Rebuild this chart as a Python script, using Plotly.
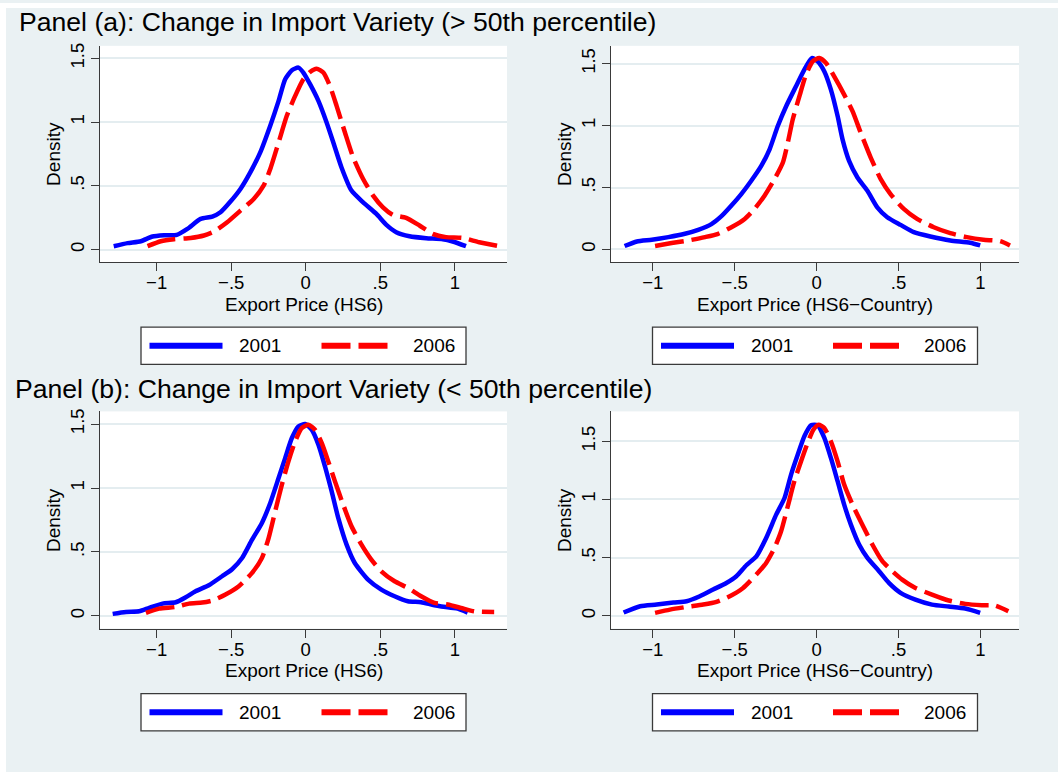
import plotly.graph_objects as go

W, H = 1058, 772
FONT = "Liberation Sans, Arial, Helvetica, sans-serif"

# ---------------- data (kernel densities) ----------------
years = ["2001", "2006"]
panel_titles = [
    "Panel (a): Change in Import Variety (> 50th percentile)",
    "Panel (b): Change in Import Variety (< 50th percentile)",
]
x_titles = ["Export Price (HS6)", "Export Price (HS6\u2212Country)"]
y_title = "Density"

x_tick_vals = [-1, -0.5, 0, 0.5, 1]
x_tick_text = ["\u22121", "\u2212.5", "0", ".5", "1"]
y_tick_vals = [0, 0.5, 1, 1.5]
y_tick_text = ["0", ".5", "1", "1.5"]

# Panel (a), HS6
a_hs6_2001_x = [-1.288, -1.195, -1.106, -1.028, -0.950, -0.865, -0.794, -0.705, -0.627, -0.572,
                -0.505, -0.438, -0.372, -0.305, -0.238, -0.182, -0.138, -0.093, -0.049, -0.016,
                0.029, 0.085, 0.140, 0.185, 0.240, 0.307, 0.385, 0.474, 0.541, 0.607,
                0.696, 0.808, 0.919, 0.986, 1.075]
a_hs6_2001_y = [0.026, 0.050, 0.065, 0.102, 0.112, 0.115, 0.162, 0.240, 0.258, 0.292,
                0.376, 0.475, 0.605, 0.762, 0.971, 1.166, 1.336, 1.406, 1.427, 1.388,
                1.297, 1.166, 0.997, 0.840, 0.644, 0.462, 0.370, 0.279, 0.193, 0.136,
                0.104, 0.089, 0.081, 0.063, 0.026]
a_hs6_2006_x = [-1.061, -0.972, -0.883, -0.772, -0.683, -0.616, -0.527, -0.438, -0.349, -0.283,
                -0.238, -0.182, -0.127, -0.071, -0.016, 0.029, 0.073, 0.118, 0.162, 0.207,
                0.263, 0.318, 0.385, 0.452, 0.518, 0.585, 0.674, 0.763, 0.852, 0.941,
                1.052, 1.164, 1.297]
a_hs6_2006_y = [0.026, 0.065, 0.081, 0.091, 0.110, 0.141, 0.214, 0.305, 0.397, 0.501,
                0.631, 0.840, 1.049, 1.205, 1.336, 1.393, 1.419, 1.388, 1.284, 1.127,
                0.918, 0.723, 0.553, 0.423, 0.331, 0.271, 0.248, 0.188, 0.123, 0.097,
                0.091, 0.057, 0.026]

# Panel (a), HS6-Country
a_cty_2001_x = [-1.172, -1.097, -1.006, -0.905, -0.804, -0.723, -0.642, -0.581, -0.520, -0.460,
                -0.399, -0.338, -0.287, -0.237, -0.186, -0.126, -0.075, -0.030, 0.006, 0.047,
                0.087, 0.128, 0.158, 0.198, 0.249, 0.310, 0.370, 0.431, 0.512, 0.593,
                0.694, 0.816, 0.937, 0.998]
a_cty_2001_y = [0.027, 0.064, 0.078, 0.099, 0.126, 0.158, 0.204, 0.268, 0.354, 0.447,
                0.555, 0.675, 0.809, 0.997, 1.157, 1.318, 1.452, 1.546, 1.519, 1.438,
                1.291, 1.077, 0.889, 0.715, 0.581, 0.474, 0.340, 0.260, 0.198, 0.139,
                0.104, 0.072, 0.054, 0.032]
a_cty_2006_x = [-0.986, -0.885, -0.783, -0.682, -0.601, -0.520, -0.439, -0.379, -0.318, -0.257,
                -0.206, -0.176, -0.146, -0.105, -0.065, -0.024, 0.016, 0.057, 0.107, 0.168,
                0.219, 0.269, 0.330, 0.391, 0.451, 0.532, 0.613, 0.715, 0.816, 0.917,
                1.018, 1.119, 1.180]
a_cty_2006_y = [0.027, 0.051, 0.072, 0.099, 0.126, 0.179, 0.246, 0.327, 0.434, 0.568,
                0.702, 0.863, 1.050, 1.238, 1.412, 1.519, 1.546, 1.506, 1.398, 1.251,
                1.117, 0.943, 0.742, 0.568, 0.447, 0.327, 0.246, 0.179, 0.131, 0.099,
                0.078, 0.067, 0.032]

# Panel (b), HS6
b_hs6_2001_x = [-1.295, -1.206, -1.117, -1.050, -0.961, -0.872, -0.805, -0.739, -0.650, -0.561,
                -0.494, -0.427, -0.360, -0.294, -0.238, -0.182, -0.138, -0.093, -0.049, -0.004,
                0.040, 0.085, 0.129, 0.174, 0.218, 0.274, 0.329, 0.418, 0.507, 0.596,
                0.685, 0.774, 0.863, 0.974, 1.019, 1.086]
b_hs6_2001_y = [0.016, 0.031, 0.036, 0.063, 0.096, 0.107, 0.146, 0.193, 0.240, 0.310,
                0.365, 0.453, 0.596, 0.727, 0.883, 1.078, 1.234, 1.391, 1.482, 1.500,
                1.456, 1.339, 1.169, 0.974, 0.766, 0.557, 0.414, 0.284, 0.206, 0.154,
                0.115, 0.107, 0.083, 0.063, 0.057, 0.026]
b_hs6_2006_x = [-1.072, -0.983, -0.872, -0.783, -0.694, -0.627, -0.538, -0.449, -0.360, -0.294,
                -0.249, -0.205, -0.160, -0.116, -0.071, -0.027, 0.018, 0.062, 0.107, 0.151,
                0.196, 0.251, 0.307, 0.374, 0.440, 0.507, 0.596, 0.685, 0.774, 0.863,
                0.952, 1.041, 1.130, 1.264]
b_hs6_2006_y = [0.023, 0.057, 0.070, 0.096, 0.104, 0.120, 0.167, 0.232, 0.336, 0.453,
                0.609, 0.818, 1.026, 1.208, 1.365, 1.469, 1.495, 1.456, 1.352, 1.208,
                1.052, 0.870, 0.701, 0.557, 0.440, 0.349, 0.271, 0.219, 0.154, 0.102,
                0.089, 0.063, 0.036, 0.031]

# Panel (b), HS6-Country
b_cty_2001_x = [-1.178, -1.077, -0.976, -0.874, -0.794, -0.713, -0.632, -0.551, -0.490, -0.429,
                -0.368, -0.308, -0.247, -0.196, -0.156, -0.115, -0.075, -0.034, 0.006, 0.047,
                0.087, 0.128, 0.168, 0.209, 0.259, 0.310, 0.381, 0.441, 0.512, 0.603,
                0.704, 0.806, 0.907, 0.998]
b_cty_2001_y = [0.029, 0.083, 0.097, 0.115, 0.126, 0.169, 0.226, 0.283, 0.341, 0.435,
                0.512, 0.670, 0.870, 1.013, 1.214, 1.386, 1.543, 1.638, 1.638, 1.529,
                1.357, 1.157, 0.956, 0.784, 0.613, 0.498, 0.384, 0.283, 0.198, 0.140,
                0.097, 0.080, 0.063, 0.026]
b_cty_2006_x = [-0.986, -0.895, -0.794, -0.692, -0.611, -0.530, -0.449, -0.368, -0.308, -0.257,
                -0.217, -0.176, -0.136, -0.095, -0.055, -0.020, 0.012, 0.047, 0.087, 0.128,
                0.168, 0.219, 0.279, 0.340, 0.401, 0.462, 0.522, 0.603, 0.704, 0.806,
                0.907, 1.008, 1.089, 1.170]
b_cty_2006_y = [0.026, 0.054, 0.077, 0.097, 0.120, 0.169, 0.240, 0.355, 0.455, 0.584,
                0.727, 0.942, 1.157, 1.328, 1.486, 1.600, 1.643, 1.615, 1.500, 1.328,
                1.128, 0.956, 0.784, 0.613, 0.470, 0.384, 0.312, 0.240, 0.183, 0.132,
                0.103, 0.092, 0.089, 0.040]

series = [
    ((a_hs6_2001_x, a_hs6_2001_y), (a_hs6_2006_x, a_hs6_2006_y)),
    ((a_cty_2001_x, a_cty_2001_y), (a_cty_2006_x, a_cty_2006_y)),
    ((b_hs6_2001_x, b_hs6_2001_y), (b_hs6_2006_x, b_hs6_2006_y)),
    ((b_cty_2001_x, b_cty_2001_y), (b_cty_2006_x, b_cty_2006_y)),
]

# ---------------- layout geometry (pixels) ----------------
# plot areas: (left, right, top, bottom)
boxes = [(100, 507, 43, 260), (611, 1019, 43, 260), (100, 507, 410, 628), (611, 1019, 410, 628)]
x_ranges = [[-1.38, 1.35], [-1.255, 1.235], [-1.38, 1.35], [-1.255, 1.235]]
y_ranges = [[-0.098, 1.598], [-0.102, 1.645], [-0.099, 1.599], [-0.109, 1.757]]

BG = "#eaf1f3"
GRID = "#e4edf0"
AXC = "#3a3a3a"
BLUE = "#0000ff"
RED = "#ff0000"
TICK_SIZE = 18.5
LABEL_SIZE = 19


def fx(px):
    return px / W


def fy(py):
    return 1 - py / H


fig = go.Figure()
layout = dict(
    width=W, height=H, margin=dict(l=0, r=0, t=0, b=0),
    paper_bgcolor=BG, plot_bgcolor="white", showlegend=False,
    font=dict(family=FONT, color="black"),
)

shapes = [
    dict(type="rect", xref="paper", yref="paper", x0=0, x1=fx(6), y0=0, y1=1,
         fillcolor="white", line=dict(width=0), layer="below"),
    dict(type="rect", xref="paper", yref="paper", x0=0, x1=1, y0=fy(5), y1=1,
         fillcolor="white", line=dict(width=0), layer="below"),
]
annotations = []

for i, (box, xr, yr, (s01, s06)) in enumerate(zip(boxes, x_ranges, y_ranges, series)):
    n = i + 1
    xa = "x" if n == 1 else f"x{n}"
    ya = "y" if n == 1 else f"y{n}"
    l, r, t, b = box
    fig.add_trace(go.Scatter(x=s01[0], y=s01[1], mode="lines", name=years[0],
                             line=dict(color=BLUE, width=4.5, shape="spline", smoothing=0.6),
                             xaxis=xa, yaxis=ya))
    fig.add_trace(go.Scatter(x=s06[0], y=s06[1], mode="lines", name=years[1],
                             line=dict(color=RED, width=4.5, dash="29px,8px",
                                       shape="spline", smoothing=0.6),
                             xaxis=xa, yaxis=ya))
    layout["xaxis" if n == 1 else f"xaxis{n}"] = dict(
        domain=[fx(l), fx(r)], range=xr, anchor=ya,
        showline=True, linecolor=AXC, linewidth=1.3, mirror=False,
        ticks="outside", ticklen=8, tickwidth=1.2, tickcolor=AXC,
        tickmode="array", tickvals=x_tick_vals, ticktext=x_tick_text,
        tickfont=dict(size=TICK_SIZE, family=FONT, color="black"),
        ticklabelstandoff=-4,
        showgrid=False, zeroline=False, fixedrange=True,
    )
    layout["yaxis" if n == 1 else f"yaxis{n}"] = dict(
        domain=[fy(b), fy(t)], range=yr, anchor=xa,
        showline=True, linecolor=AXC, linewidth=1.3, mirror=False,
        ticks="outside", ticklen=8, tickwidth=1.2, tickcolor=AXC,
        tickmode="array", tickvals=y_tick_vals, ticktext=y_tick_text,
        tickangle=-90, tickfont=dict(size=TICK_SIZE, family=FONT, color="black"),
        ticklabelstandoff=-1,
        showgrid=True, gridcolor=GRID, gridwidth=1.6, zeroline=False, fixedrange=True,
    )
    cx = (l + r) / 2
    # axis titles
    annotations.append(dict(text=x_titles[i % 2], xref="paper", yref="paper",
                            x=fx(cx), y=fy(b + 42.5), xanchor="center", yanchor="middle",
                            showarrow=False, font=dict(size=LABEL_SIZE, family=FONT, color="black")))
    annotations.append(dict(text=y_title, xref="paper", yref="paper",
                            x=fx(l - 46), y=fy((t + b) / 2), xanchor="center", yanchor="middle",
                            textangle=-90, showarrow=False,
                            font=dict(size=LABEL_SIZE, family=FONT, color="black")))
    # legend box
    ly0 = b + 65.3
    ly1 = b + 102.7
    lyc = (ly0 + ly1) / 2
    shapes.append(dict(type="rect", xref="paper", yref="paper",
                       x0=fx(cx - 162.5), x1=fx(cx + 162.5), y0=fy(ly1), y1=fy(ly0),
                       fillcolor="white", line=dict(color=AXC, width=1.3)))
    shapes.append(dict(type="line", xref="paper", yref="paper",
                       x0=fx(cx - 154), x1=fx(cx - 81), y0=fy(lyc), y1=fy(lyc),
                       line=dict(color=BLUE, width=6)))
    shapes.append(dict(type="line", xref="paper", yref="paper",
                       x0=fx(cx + 18), x1=fx(cx + 86), y0=fy(lyc), y1=fy(lyc),
                       line=dict(color=RED, width=6, dash="29px,8px")))
    annotations.append(dict(text=years[0], xref="paper", yref="paper",
                            x=fx(cx - 43.5), y=fy(lyc), xanchor="center", yanchor="middle",
                            showarrow=False, font=dict(size=LABEL_SIZE, family=FONT, color="black")))
    annotations.append(dict(text=years[1], xref="paper", yref="paper",
                            x=fx(cx + 130), y=fy(lyc), xanchor="center", yanchor="middle",
                            showarrow=False, font=dict(size=LABEL_SIZE, family=FONT, color="black")))

# panel titles
annotations.append(dict(text=panel_titles[0], xref="paper", yref="paper",
                        x=fx(17), y=fy(19), xanchor="left", yanchor="middle",
                        showarrow=False, font=dict(size=26.6, family=FONT, color="black")))
annotations.append(dict(text=panel_titles[1], xref="paper", yref="paper",
                        x=fx(13), y=fy(387.5), xanchor="left", yanchor="middle",
                        showarrow=False, font=dict(size=26.6, family=FONT, color="black")))

layout["shapes"] = shapes
layout["annotations"] = annotations
fig.update_layout(**layout)
fig.write_html("out.html")
